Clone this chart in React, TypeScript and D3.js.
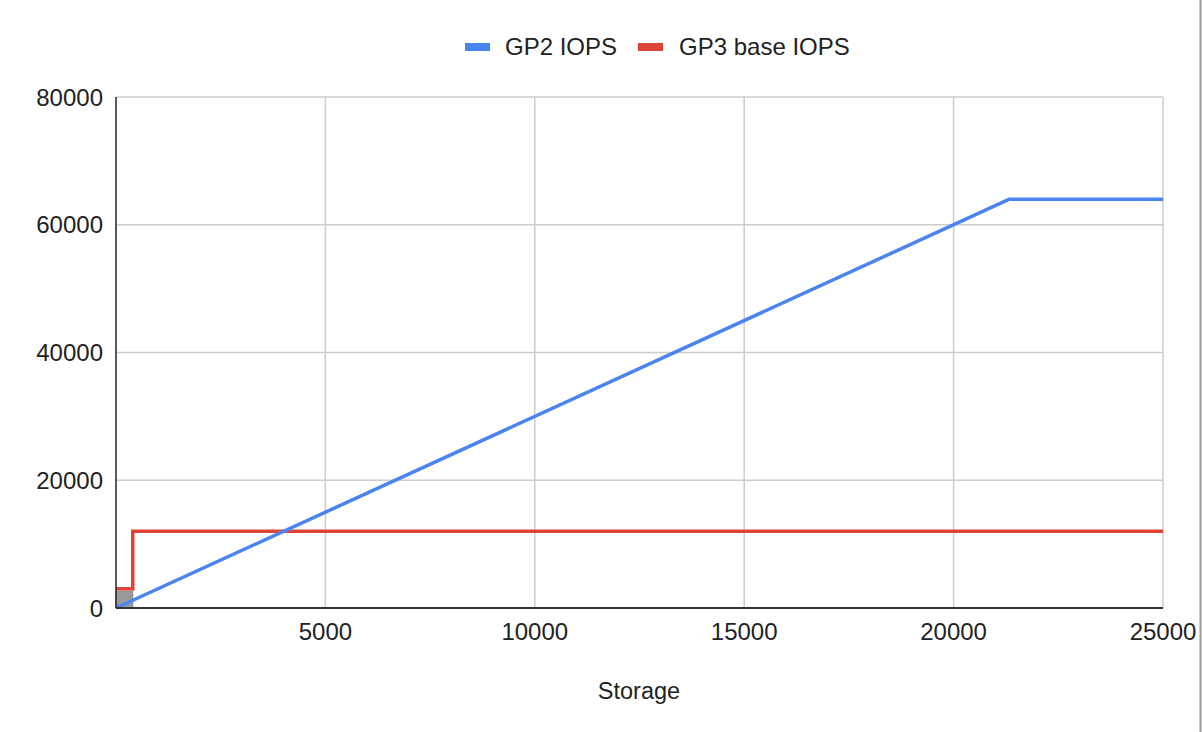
import React from "react";
import * as d3 from "d3";

const gp2Storage = [0, 21333, 25000];
const gp2Iops = [0, 64000, 64000];
const gp3Storage = [0, 400, 400, 25000];
const gp3Iops = [3000, 3000, 12000, 12000];
const shadedStorage = [0, 400];
const shadedIops = [0, 2650];
const xTicks = [5000, 10000, 15000, 20000, 25000];
const yTicks = [0, 20000, 40000, 60000, 80000];
const seriesNames = ["GP2 IOPS", "GP3 base IOPS"];
const seriesColors = ["#4a84ee", "#db4437"];

const W = 1202;
const H = 732;
const left = 116;
const right = 1163;
const top = 97;
const bottom = 608;
const FONT = "Arial, 'Liberation Sans', Helvetica, sans-serif";

export default function App() {
  const x = d3.scaleLinear().domain([0, 25000]).range([left, right]);
  const y = d3.scaleLinear().domain([0, 80000]).range([bottom, top]);
  const line = d3
    .line<[number, number]>()
    .x((d) => x(d[0]))
    .y((d) => y(d[1]));
  const gp2 = gp2Storage.map((s, i) => [s, gp2Iops[i]] as [number, number]);
  const gp3 = gp3Storage.map((s, i) => [s, gp3Iops[i]] as [number, number]);

  return (
    <svg
      width={W}
      height={H}
      style={{ position: "absolute", left: 0, top: 0, background: "#fff" }}
      fontFamily={FONT}
    >
      <rect x={0} y={0} width={W} height={H} fill="#fff" />
      {/* grid */}
      {yTicks.map((t) => (
        <line key={"gy" + t} x1={left} x2={right} y1={y(t)} y2={y(t)} stroke="#cccccc" strokeWidth={1.5} />
      ))}
      {xTicks.map((t) => (
        <line key={"gx" + t} x1={x(t)} x2={x(t)} y1={top} y2={bottom} stroke="#cccccc" strokeWidth={1.5} />
      ))}
      {/* shaded region */}
      <rect
        x={x(shadedStorage[0])}
        y={y(shadedIops[1])}
        width={x(shadedStorage[1]) - x(shadedStorage[0])}
        height={y(shadedIops[0]) - y(shadedIops[1])}
        fill="#9a9a9a"
        stroke="#8a8a8a"
        strokeWidth={1}
      />
      {/* series */}
      <path d={line(gp3) || ""} fill="none" stroke={seriesColors[1]} strokeWidth={3.5} strokeLinejoin="miter" />
      <path d={line(gp2) || ""} fill="none" stroke={seriesColors[0]} strokeWidth={3.5} strokeLinejoin="round" />
      {/* axes */}
      <line x1={left} x2={left} y1={top} y2={bottom} stroke="#222" strokeWidth={1.5} />
      <line x1={left} x2={right} y1={bottom} y2={bottom} stroke="#333" strokeWidth={2} />
      {/* y tick labels */}
      {yTicks.map((t) => (
        <text key={"ty" + t} x={103} y={y(t) + 8.5} textAnchor="end" fontSize={24} fill="#222">
          {t}
        </text>
      ))}
      {/* x tick labels */}
      {xTicks.map((t) => (
        <text key={"tx" + t} x={x(t)} y={640} textAnchor="middle" fontSize={24} fill="#222">
          {t}
        </text>
      ))}
      <text x={639} y={699} textAnchor="middle" fontSize={23.5} fill="#222">
        Storage
      </text>
      {/* legend */}
      <rect x={465} y={43} width={25} height={8} fill={seriesColors[0]} />
      <text x={505} y={55} fontSize={24} fill="#222">
        {seriesNames[0]}
      </text>
      <rect x={638} y={43} width={25} height={8} fill={seriesColors[1]} />
      <text x={679} y={55} fontSize={24} fill="#222">
        {seriesNames[1]}
      </text>
      {/* right border */}
      <line x1={1200.5} x2={1200.5} y1={0} y2={H} stroke="#9c9c9c" strokeWidth={2} />
    </svg>
  );
}
